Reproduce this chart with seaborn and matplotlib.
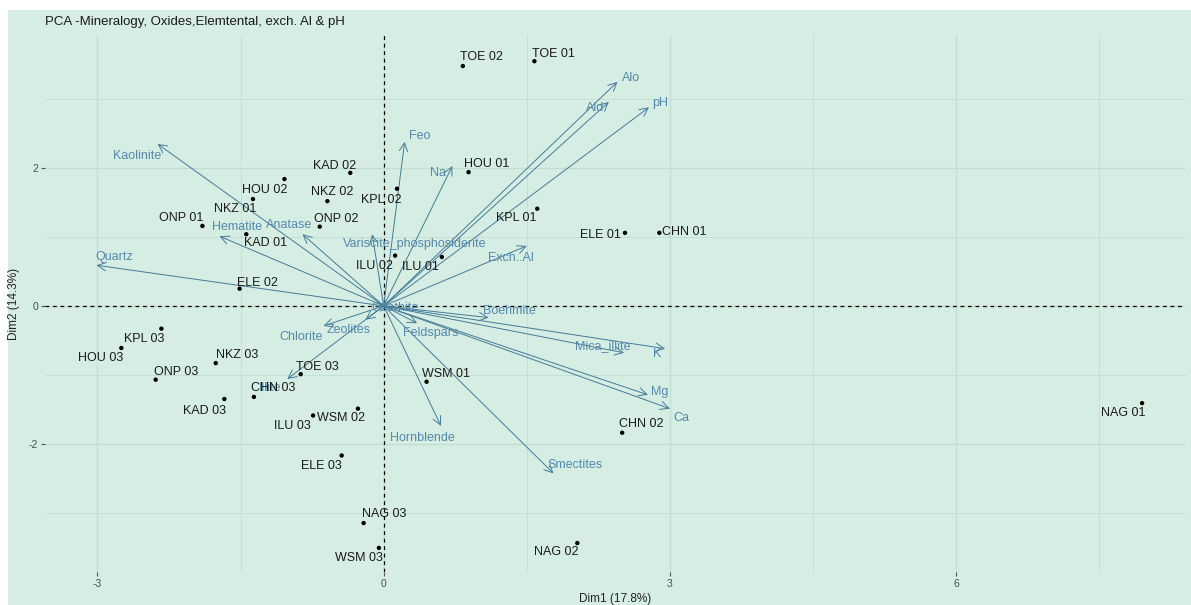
import numpy as np
import pandas as pd
import matplotlib
matplotlib.use("Agg")
import matplotlib.pyplot as plt
from matplotlib.patches import Rectangle
import seaborn as sns

# ---- individuals (sample scores on Dim1 / Dim2) ----
samples = ["TOE 02", "TOE 01", "HOU 01", "KAD 02", "HOU 02", "NKZ 01", "NKZ 02",
           "KPL 02", "ONP 01", "KAD 01", "ONP 02", "KPL 01", "ELE 01", "CHN 01",
           "ILU 02", "ILU 01", "ELE 02", "KPL 03", "HOU 03", "NKZ 03", "ONP 03",
           "TOE 03", "KAD 03", "CHN 03", "WSM 02", "ILU 03", "WSM 01", "ELE 03",
           "NAG 03", "WSM 03", "NAG 02", "CHN 02", "NAG 01"]
dim1 = [0.83, 1.58, 0.89, -0.35, -1.04, -1.37, -0.59,
        0.14, -1.90, -1.44, -0.67, 1.61, 2.53, 2.89,
        0.12, 0.61, -1.51, -2.33, -2.75, -1.76, -2.39,
        -0.87, -1.67, -1.36, -0.27, -0.74, 0.45, -0.44,
        -0.21, -0.05, 2.03, 2.50, 7.95]
dim2 = [3.48, 3.55, 1.94, 1.93, 1.84, 1.55, 1.52,
        1.70, 1.16, 1.04, 1.15, 1.41, 1.06, 1.06,
        0.73, 0.71, 0.25, -0.33, -0.61, -0.83, -1.07,
        -0.99, -1.35, -1.32, -1.49, -1.59, -1.10, -2.17,
        -3.15, -3.51, -3.44, -1.84, -1.41]

# ---- variables (arrow tips, scaled loadings) ----
variables = ["Kaolinite", "Quartz", "Hematite", "Anatase", "Variscite_phosphosiderite",
             "Feo", "Na", "Alo", "Ald", "pH", "Exch..Al", "Boehmite", "Mica_illite",
             "K", "Mg", "Ca", "Smectites", "Hornblende", "Feldspars", "Zeolites",
             "Chlorite", "Illite", "Goethite"]
var_x = [-2.37, -3.01, -1.72, -0.85, -0.12, 0.22, 0.72, 2.45, 2.36, 2.78, 1.50, 1.10,
         2.52, 2.95, 2.77, 3.00, 1.78, 0.60, 0.35, -0.19, -0.63, -1.01, 0.05]
var_y = [2.35, 0.59, 1.01, 1.04, 1.04, 2.38, 2.03, 3.25, 2.96, 2.88, 0.87, -0.17,
         -0.68, -0.62, -1.29, -1.49, -2.43, -1.74, -0.25, -0.20, -0.29, -1.06, 0.02]

title = "PCA -Mineralogy, Oxides,Elemtental, exch. Al & pH"
xlab = "Dim1 (17.8%)"
ylab = "Dim2 (14.3%)"

# label placement (pixel offsets of label centre from its mark; +y is down)
sample_offsets = [(19, -9), (19, -7), (18, -8), (-16, -7), (-20, 11), (-18, 10), (5, -9),
                  (-16, 11), (-21, -8), (19, 9), (16, -8), (-21, 9), (-25, 2), (25, -1),
                  (-21, 10), (-21, 10), (18, -6), (-17, 10), (-21, 10), (21, -8), (20, -8),
                  (17, -7), (-20, 12), (19, -9), (-17, 9), (-21, 10), (19, -8), (-20, 10),
                  (21, -9), (-20, 10), (-21, 9), (19, -9), (-19, 10)]
var_offsets = [(-20, 12), (18, -8), (17, -9), (-13, -9), (42, 10), (15, -6), (-14, 7),
               (14, -4), (-14, 6), (11, -4), (-16, 12), (21, -7), (-21, -7), (-8, 5),
               (12, -3), (12, 9), (22, -8), (-19, 12), (14, 10), (-17, 10), (-22, 11),
               (-17, 9), (7, 3)]

BG = "#d6ede3"
GRID = "#c4ddd2"
ARROW = "#447b98"
VAR_TXT = "#5389ab"
PX = 72 / 100  # points per pixel

sns.set_theme(style="white")
plt.rcParams["font.family"] = ["Liberation Sans", "DejaVu Sans"]
plt.rcParams["axes.unicode_minus"] = False

fig = plt.figure(figsize=(11.91, 6.05), dpi=100, facecolor="white")
fig.patches.append(Rectangle((8 / 1191, 0), 1, 1 - 10 / 605, transform=fig.transFigure,
                             facecolor=BG, edgecolor="none", zorder=-10))
ax = fig.add_axes([45 / 1191, 1 - 572 / 605, (1185 - 45) / 1191, (572 - 35) / 605])
ax.set_facecolor(BG)
for s in ax.spines.values():
    s.set_visible(False)

ax.set_xlim(-3.55, 8.40)
ax.set_ylim(-3.86, 3.93)
ax.set_xticks([-3, 0, 3, 6])
ax.set_xticks([-1.5, 1.5, 4.5, 7.5], minor=True)
ax.set_yticks([-2, 0, 2])
ax.set_yticks([-3, -1, 1, 3], minor=True)
ax.grid(which="major", color=GRID, lw=0.9)
ax.grid(which="minor", color=GRID, lw=0.6)
ax.set_axisbelow(True)
ax.tick_params(which="major", length=3, width=0.8, color="#555555",
               labelcolor="#4d4d4d", labelsize=7.5, pad=2,
               bottom=True, left=True)
ax.tick_params(which="minor", length=0)

ax.axhline(0, color="black", lw=0.9, ls=(0, (3, 3)), zorder=1)
ax.axvline(0, color="black", lw=0.9, ls=(0, (3, 3)), zorder=1)

# variable arrows
for name, vx, vy, (dx, dy) in zip(variables, var_x, var_y, var_offsets):
    ax.annotate("", xy=(vx, vy), xytext=(0, 0),
                arrowprops=dict(arrowstyle="->,head_length=0.5,head_width=0.25",
                                color=ARROW, lw=0.7, shrinkA=0, shrinkB=0),
                zorder=2)
    ax.annotate(name, xy=(vx, vy), xytext=(dx * PX, -dy * PX), textcoords="offset points",
                ha="center", va="center", fontsize=9, color=VAR_TXT, zorder=3)

# individuals
df = pd.DataFrame({"sample": samples, "Dim1": dim1, "Dim2": dim2})
sns.scatterplot(data=df, x="Dim1", y="Dim2", color="black", s=10, edgecolor="none",
                ax=ax, zorder=4)
for name, x, y, (dx, dy) in zip(samples, dim1, dim2, sample_offsets):
    ax.annotate(name, xy=(x, y), xytext=(dx * PX, -dy * PX), textcoords="offset points",
                ha="center", va="center", fontsize=9, color="#1a1a1a", zorder=5)

ax.set_xlabel(xlab, fontsize=8.5, color="#222222", labelpad=3)
ax.set_ylabel(ylab, fontsize=8.5, color="#222222", labelpad=6)
fig.text(45 / 1191, 1 - 22 / 605, title, fontsize=9.5, color="#1a1a1a",
         ha="left", va="center")

fig.savefig("out.png", dpi=100, facecolor="white")
